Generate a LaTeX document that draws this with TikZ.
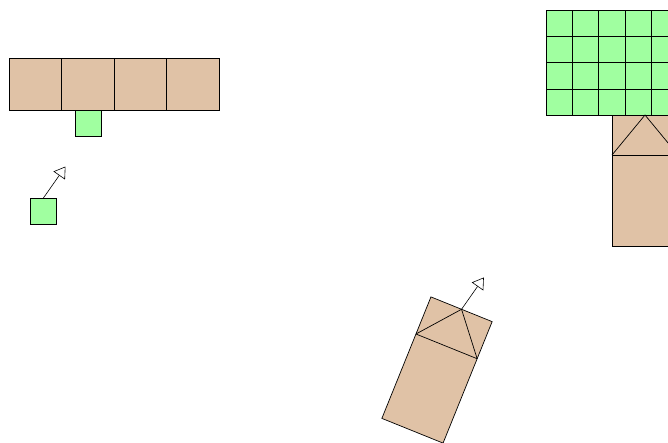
\documentclass[tikz,border=0pt]{standalone}
\usetikzlibrary{arrows.meta}
\definecolor{tanc}{RGB}{224,194,166}
\definecolor{grn}{RGB}{160,255,160}
\tikzset{
  tanbox/.style={draw=black, fill=tanc, line width=0.7pt, line join=miter},
  grnbox/.style={draw=black, fill=grn, line width=0.7pt},
  edge/.style={draw=black, line width=0.7pt},
  heading/.style={draw=black, line width=0.6pt, -{Triangle[open, fill=white, length=11pt, width=14pt]}}
}
\begin{document}
\begin{tikzpicture}[x=1pt, y=-1pt]
\useasboundingbox (0,0) rectangle (668,442);
% top-left row of tan squares
\foreach \i in {0,...,3}{
  \draw[tanbox] ({9.3+52.5*\i},58) rectangle ++(52.5,52.5);
}
% green square below row
\draw[grnbox] (75,110.5) rectangle ++(26.3,26.3);
% lone green square with heading arrow
\draw[grnbox] (30,198.3) rectangle ++(26.3,26.3);
\coordinate (a1) at (43.2,198.3);
\coordinate (a1t) at (65.5,166.5);
\draw[heading] (a1) -- (a1t);
% top-right green grid
\foreach \c in {0,...,4}{
  \foreach \r in {0,...,3}{
    \draw[grnbox] ({546+26.3*\c},{10+26.3*\r}) rectangle ++(26.3,26.3);
  }
}
% top-right tan vehicle
\draw[tanbox] (612,115) rectangle (678,246);
\coordinate (bl) at (612,155);
\coordinate (br) at (678,155);
\coordinate (ap) at (645,115);
\draw[edge] (bl) -- (br);
\draw[edge] (bl) -- (ap) -- (br);
% rotated tan vehicle
\begin{scope}[shift={(437,370)}, rotate=-22]
  \draw[tanbox] (-33,-65.5) rectangle (33,65.5);
  \coordinate (rl) at (-33,-25.5);
  \coordinate (rr) at (33,-25.5);
  \coordinate (rap) at (0,-65.5);
  \draw[edge] (rl) -- (rr);
  \draw[edge] (rl) -- (rap) -- (rr);
\end{scope}
\draw[heading] (rap) -- ++(22.3,-31.8) coordinate (rapt);
\end{tikzpicture}
\end{document}
